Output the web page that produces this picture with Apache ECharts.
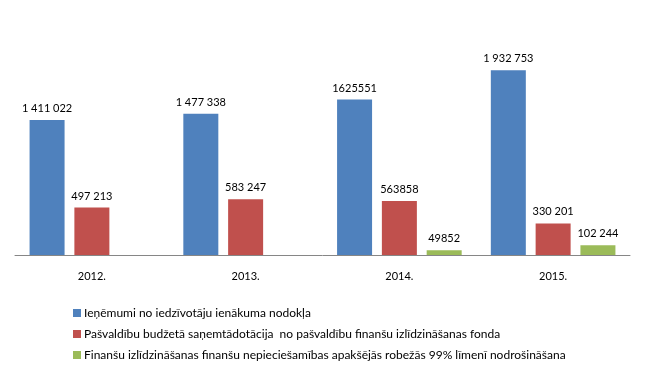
<!DOCTYPE html>
<html><head><meta charset="utf-8">
<script src="https://cdn.jsdelivr.net/npm/echarts@6/dist/echarts.min.js"></script>
<style>html,body{margin:0;padding:0;background:#fff}#c{width:645px;height:378px}</style>
</head><body><div id="c"></div>
<script>
const categories = ['2012.', '2013.', '2014.', '2015.'];
const seriesNames = [
  'Ieņēmumi no iedzīvotāju ienākuma nodokļa',
  'Pašvaldību budžetā saņemtādotācija  no pašvaldību finanšu izlīdzināšanas fonda',
  'Finanšu izlīdzināšanas finanšu nepieciešamības apakšējās robežās 99% līmenī nodrošināšana'
];
const incomeTax = [1411022, 1477338, 1625551, 1932753];
const grant = [497213, 583247, 563858, 330201];
const equalization = [null, null, 49852, 102244];
const incomeTaxLabels = ['1 411 022', '1 477 338', '1625551', '1 932 753'];
const grantLabels = ['497 213', '583 247', '563858', '330 201'];
const equalizationLabels = ['', '', '49852', '102 244'];
const colors = ['#4F81BD', '#C0504D', '#9BBB59'];

const font = 'Lato, "Open Sans", sans-serif';
function mk(name, data, labels, color) {
  return {
    name: name, type: 'bar', data: data, barWidth: 35, barGap: '28%',
    itemStyle: { color: color },
    label: { show: true, position: 'top', distance: 6, color: '#000', fontSize: 11, fontFamily: font,
      formatter: p => labels[p.dataIndex] },
    emphasis: { disabled: true }
  };
}
const chart = echarts.init(document.getElementById('c'));
chart.setOption({
  animation: false,
  color: colors,
  grid: { left: 15, right: 15, top: 16, bottom: 123 },
  xAxis: {
    type: 'category', data: categories,
    axisLine: { lineStyle: { color: '#868686', width: 1 } },
    axisTick: { show: false },
    axisLabel: { color: '#000', fontSize: 11, fontFamily: font, margin: 16 }
  },
  yAxis: { type: 'value', min: 0, max: 2500000, show: false, splitLine: { show: false } },
  legend: {
    orient: 'vertical', left: 68, top: 302, itemWidth: 8, itemHeight: 8, itemGap: 9,
    icon: 'rect',
    textStyle: { color: '#000', fontSize: 12, fontFamily: font, padding: [0, 0, 0, -2] },
    data: seriesNames
  },
  series: [
    mk(seriesNames[0], incomeTax, incomeTaxLabels, colors[0]),
    mk(seriesNames[1], grant, grantLabels, colors[1]),
    mk(seriesNames[2], equalization, equalizationLabels, colors[2])
  ]
});
</script></body></html>
